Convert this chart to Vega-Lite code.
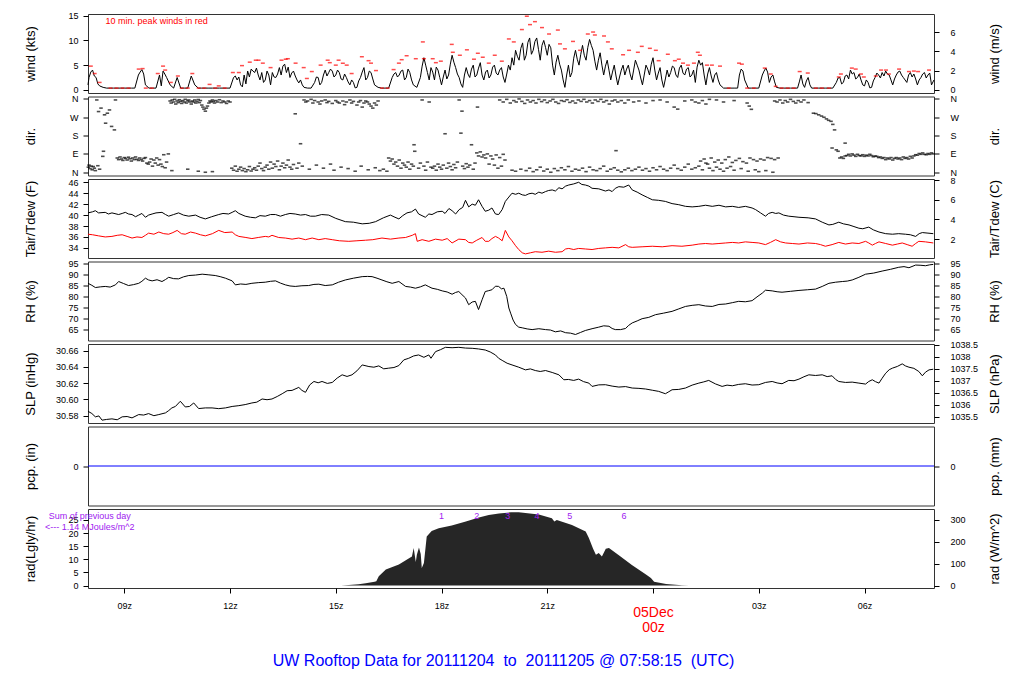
{
"$schema": "https://vega.github.io/schema/vega-lite/v6.json",
"background": "white",
"padding": {"left": 23, "top": 10, "right": 5, "bottom": 5},
"spacing": 3.5,
"bounds": "flush",
"title": {"text": "UW Rooftop Data for 20111204 \u00a0to \u00a020111205 @ 07:58:15 \u00a0(UTC)", "orient": "bottom", "anchor": "middle", "color": "#0000ff", "fontSize": 16, "font": "Liberation Sans", "fontWeight": "normal", "offset": 18, "dx": -9},
"config": {
 "view": {"stroke": "#333333", "strokeWidth": 1},
 "font": "Liberation Sans",
 "axis": {"labelFont": "Liberation Sans", "titleFont": "Liberation Sans", "labelFontSize": 9, "titleFontSize": 13, "titleFontWeight": "normal", "tickSize": 5, "tickColor": "black", "labelColor": "black", "titleColor": "black", "domain": false, "grid": false, "labelOverlap": false}
},
"datasets": {
 "wind": [
 {"h":7.97,"w":1.0},{"h":8.0,"w":2.5},{"h":8.05,"w":3.6},{"h":8.1,"w":4.0},{"h":8.15,"w":2.8},{"h":8.2,"w":2.5},{"h":8.25,"w":1.2},{"h":8.3,"w":0.8},{"h":8.4,"w":0.5},{"h":8.5,"w":0.35},{"h":8.6,"w":0.35},{"h":8.7,"w":0.35},{"h":8.8,"w":0.35},{"h":8.9,"w":0.35},{"h":9.0,"w":0.35},{"h":9.1,"w":0.35},{"h":9.2,"w":0.35},{"h":9.3,"w":0.35},{"h":9.4,"w":3.0},{"h":9.45,"w":3.6},{"h":9.5,"w":4.1},{"h":9.55,"w":3.2},{"h":9.6,"w":1.0},{"h":9.7,"w":0.35},{"h":9.8,"w":0.35},{"h":9.9,"w":0.35},
 {"h":10.0,"w":3.0},{"h":10.05,"w":0.8},{"h":10.1,"w":3.8},{"h":10.15,"w":3.2},{"h":10.2,"w":2.5},{"h":10.3,"w":1.0},{"h":10.4,"w":0.35},{"h":10.5,"w":2.5},{"h":10.6,"w":0.35},{"h":10.7,"w":0.35},{"h":10.8,"w":0.35},{"h":10.9,"w":2.8},{"h":11.0,"w":1.0},{"h":11.1,"w":0.35},{"h":11.2,"w":0.35},{"h":11.3,"w":0.35},{"h":11.4,"w":0.35},{"h":11.5,"w":0.35},{"h":11.6,"w":0.35},{"h":11.7,"w":0.35},{"h":11.8,"w":0.35},{"h":11.9,"w":0.35},
 {"h":12.0,"w":0.35},{"h":12.1,"w":2.5},{"h":12.15,"w":2.8},{"h":12.2,"w":2.0},{"h":12.25,"w":2.6},{"h":12.3,"w":1.0},{"h":12.35,"w":0.6},{"h":12.4,"w":3.0},{"h":12.45,"w":1.2},{"h":12.5,"w":3.8},{"h":12.55,"w":2.6},{"h":12.6,"w":4.2},{"h":12.65,"w":3.8},{"h":12.7,"w":3.5},{"h":12.75,"w":4.4},{"h":12.8,"w":3.0},{"h":12.85,"w":2.0},{"h":12.9,"w":3.5},{"h":12.95,"w":1.5},{"h":13.0,"w":2.0},{"h":13.05,"w":3.8},{"h":13.1,"w":3.0},{"h":13.15,"w":1.0},{"h":13.2,"w":3.5},{"h":13.25,"w":2.6},{"h":13.3,"w":2.5},{"h":13.35,"w":3.2},{"h":13.4,"w":4.5},{"h":13.45,"w":3.0},{"h":13.5,"w":4.8},{"h":13.55,"w":5.2},{"h":13.6,"w":3.5},{"h":13.65,"w":4.6},{"h":13.7,"w":2.5},{"h":13.75,"w":3.4},{"h":13.8,"w":3.8},{"h":13.85,"w":2.8},{"h":13.9,"w":2.0},{"h":13.95,"w":1.4},
 {"h":14.0,"w":2.0},{"h":14.05,"w":1.0},{"h":14.1,"w":0.5},{"h":14.2,"w":0.35},{"h":14.3,"w":0.35},{"h":14.4,"w":1.5},{"h":14.45,"w":2.6},{"h":14.5,"w":2.5},{"h":14.55,"w":1.0},{"h":14.6,"w":1.5},{"h":14.65,"w":3.0},{"h":14.7,"w":4.0},{"h":14.75,"w":2.8},{"h":14.8,"w":3.5},{"h":14.85,"w":4.2},{"h":14.9,"w":3.8},{"h":14.95,"w":2.6},{"h":15.0,"w":3.0},{"h":15.05,"w":4.0},{"h":15.1,"w":3.5},{"h":15.15,"w":2.2},{"h":15.2,"w":2.0},{"h":15.25,"w":3.2},{"h":15.3,"w":2.5},{"h":15.35,"w":1.6},{"h":15.4,"w":1.0},{"h":15.45,"w":2.0},{"h":15.5,"w":1.5},{"h":15.55,"w":0.4},{"h":15.6,"w":0.5},{"h":15.65,"w":1.8},{"h":15.7,"w":2.5},{"h":15.75,"w":3.6},{"h":15.8,"w":4.5},{"h":15.85,"w":2.0},{"h":15.9,"w":2.5},{"h":15.95,"w":3.8},
 {"h":16.0,"w":3.5},{"h":16.05,"w":2.2},{"h":16.1,"w":1.0},{"h":16.2,"w":0.5},{"h":16.3,"w":0.35},{"h":16.4,"w":0.35},{"h":16.5,"w":0.35},{"h":16.6,"w":2.5},{"h":16.65,"w":3.2},{"h":16.7,"w":3.5},{"h":16.75,"w":2.6},{"h":16.8,"w":3.0},{"h":16.85,"w":3.8},{"h":16.9,"w":4.0},{"h":16.95,"w":2.0},{"h":17.0,"w":2.5},{"h":17.05,"w":4.2},{"h":17.1,"w":3.5},{"h":17.15,"w":2.0},{"h":17.2,"w":1.0},{"h":17.3,"w":0.5},{"h":17.4,"w":2.5},{"h":17.45,"w":4.8},{"h":17.5,"w":6.5},{"h":17.55,"w":5.0},{"h":17.6,"w":3.5},{"h":17.65,"w":2.0},{"h":17.7,"w":4.5},{"h":17.75,"w":3.6},{"h":17.8,"w":2.0},{"h":17.85,"w":4.6},{"h":17.9,"w":4.0},{"h":17.95,"w":2.5},
 {"h":18.0,"w":1.0},{"h":18.05,"w":2.6},{"h":18.1,"w":4.0},{"h":18.15,"w":2.2},{"h":18.2,"w":3.0},{"h":18.25,"w":5.2},{"h":18.3,"w":7.0},{"h":18.35,"w":5.6},{"h":18.4,"w":4.5},{"h":18.45,"w":3.2},{"h":18.5,"w":2.5},{"h":18.55,"w":1.2},{"h":18.6,"w":0.5},{"h":18.65,"w":3.0},{"h":18.7,"w":4.5},{"h":18.75,"w":3.2},{"h":18.8,"w":2.5},{"h":18.85,"w":4.2},{"h":18.9,"w":5.0},{"h":18.95,"w":2.6},{"h":19.0,"w":3.0},{"h":19.05,"w":4.4},{"h":19.1,"w":5.5},{"h":19.15,"w":3.0},{"h":19.2,"w":2.0},{"h":19.25,"w":3.6},{"h":19.3,"w":4.0},{"h":19.35,"w":2.4},{"h":19.4,"w":3.0},{"h":19.45,"w":4.6},{"h":19.5,"w":5.0},{"h":19.55,"w":3.4},{"h":19.6,"w":3.0},{"h":19.65,"w":4.0},{"h":19.7,"w":4.5},{"h":19.75,"w":2.6},{"h":19.8,"w":1.5},{"h":19.85,"w":3.2},{"h":19.9,"w":5.0},{"h":19.95,"w":4.0},
 {"h":20.0,"w":6.5},{"h":20.05,"w":5.0},{"h":20.1,"w":8.0},{"h":20.15,"w":6.8},{"h":20.2,"w":6.0},{"h":20.25,"w":8.4},{"h":20.3,"w":9.5},{"h":20.35,"w":6.0},{"h":20.4,"w":7.0},{"h":20.45,"w":9.6},{"h":20.5,"w":10.5},{"h":20.55,"w":7.2},{"h":20.6,"w":8.0},{"h":20.65,"w":9.8},{"h":20.7,"w":10.5},{"h":20.75,"w":8.2},{"h":20.8,"w":6.0},{"h":20.85,"w":9.0},{"h":20.9,"w":10.0},{"h":20.95,"w":8.6},{"h":21.0,"w":7.0},{"h":21.05,"w":9.2},{"h":21.1,"w":8.5},{"h":21.15,"w":5.0},{"h":21.2,"w":3.0},{"h":21.25,"w":5.6},{"h":21.3,"w":7.0},{"h":21.35,"w":5.2},{"h":21.4,"w":4.0},{"h":21.45,"w":2.0},{"h":21.5,"w":0.5},{"h":21.55,"w":3.0},{"h":21.6,"w":5.0},{"h":21.65,"w":2.6},{"h":21.7,"w":3.5},{"h":21.75,"w":6.4},{"h":21.8,"w":8.0},{"h":21.85,"w":6.2},{"h":21.9,"w":5.0},{"h":21.95,"w":7.2},
 {"h":22.0,"w":9.0},{"h":22.05,"w":7.0},{"h":22.1,"w":6.0},{"h":22.15,"w":8.6},{"h":22.2,"w":10.2},{"h":22.25,"w":9.0},{"h":22.3,"w":8.0},{"h":22.35,"w":5.8},{"h":22.4,"w":4.0},{"h":22.45,"w":6.0},{"h":22.5,"w":7.5},{"h":22.55,"w":5.0},{"h":22.6,"w":3.0},{"h":22.65,"w":4.8},{"h":22.7,"w":6.0},{"h":22.75,"w":4.0},{"h":22.8,"w":2.0},{"h":22.85,"w":3.6},{"h":22.9,"w":5.0},{"h":22.95,"w":2.8},{"h":23.0,"w":1.0},{"h":23.05,"w":2.6},{"h":23.1,"w":4.0},{"h":23.15,"w":5.0},{"h":23.2,"w":3.0},{"h":23.25,"w":4.2},{"h":23.3,"w":5.0},{"h":23.35,"w":3.2},{"h":23.4,"w":2.0},{"h":23.45,"w":4.0},{"h":23.5,"w":6.0},{"h":23.55,"w":5.0},{"h":23.6,"w":4.0},{"h":23.65,"w":2.4},{"h":23.7,"w":1.0},{"h":23.75,"w":3.0},{"h":23.8,"w":5.0},{"h":23.85,"w":4.2},{"h":23.9,"w":3.0},{"h":23.95,"w":5.2},
 {"h":24.0,"w":6.5},{"h":24.05,"w":4.0},{"h":24.1,"w":2.0},{"h":24.15,"w":3.4},{"h":24.2,"w":4.5},{"h":24.25,"w":2.0},{"h":24.3,"w":0.5},{"h":24.35,"w":2.2},{"h":24.4,"w":4.0},{"h":24.45,"w":2.6},{"h":24.5,"w":3.5},{"h":24.55,"w":4.8},{"h":24.6,"w":4.5},{"h":24.65,"w":3.0},{"h":24.7,"w":2.5},{"h":24.75,"w":4.4},{"h":24.8,"w":5.0},{"h":24.85,"w":3.4},{"h":24.9,"w":3.0},{"h":24.95,"w":4.2},{"h":25.0,"w":4.5},{"h":25.05,"w":2.6},{"h":25.1,"w":3.0},{"h":25.15,"w":4.0},{"h":25.2,"w":1.5},{"h":25.25,"w":4.6},{"h":25.3,"w":6.0},{"h":25.35,"w":5.0},{"h":25.4,"w":5.5},{"h":25.45,"w":3.0},{"h":25.5,"w":1.0},{"h":25.55,"w":3.2},{"h":25.6,"w":4.5},{"h":25.65,"w":2.8},{"h":25.7,"w":1.5},{"h":25.75,"w":3.0},{"h":25.8,"w":3.5},{"h":25.85,"w":2.0},{"h":25.9,"w":1.0},
 {"h":26.0,"w":0.35},{"h":26.1,"w":0.35},{"h":26.2,"w":0.35},{"h":26.3,"w":0.35},{"h":26.4,"w":0.35},{"h":26.45,"w":3.0},{"h":26.5,"w":4.2},{"h":26.55,"w":3.8},{"h":26.6,"w":2.0},{"h":26.7,"w":0.35},{"h":26.8,"w":0.35},{"h":26.9,"w":0.35},{"h":27.0,"w":0.35},{"h":27.1,"w":3.0},{"h":27.15,"w":3.8},{"h":27.2,"w":4.4},{"h":27.25,"w":3.6},{"h":27.3,"w":1.5},{"h":27.35,"w":2.6},{"h":27.4,"w":3.0},{"h":27.45,"w":1.6},{"h":27.5,"w":0.5},{"h":27.6,"w":0.35},{"h":27.7,"w":0.35},{"h":27.8,"w":0.35},{"h":27.9,"w":0.35},
 {"h":28.0,"w":0.35},{"h":28.1,"w":0.35},{"h":28.15,"w":1.6},{"h":28.2,"w":3.0},{"h":28.25,"w":1.2},{"h":28.3,"w":0.5},{"h":28.35,"w":1.8},{"h":28.4,"w":2.5},{"h":28.45,"w":1.0},{"h":28.5,"w":0.35},{"h":28.6,"w":0.35},{"h":28.7,"w":0.35},{"h":28.8,"w":0.35},{"h":28.9,"w":0.35},{"h":29.0,"w":0.35},{"h":29.1,"w":0.35},{"h":29.2,"w":1.5},{"h":29.25,"w":2.4},{"h":29.3,"w":2.5},{"h":29.35,"w":1.2},{"h":29.4,"w":1.5},{"h":29.45,"w":2.8},{"h":29.5,"w":3.0},{"h":29.55,"w":2.2},{"h":29.6,"w":4.0},{"h":29.65,"w":3.2},{"h":29.7,"w":3.5},{"h":29.75,"w":2.2},{"h":29.8,"w":2.5},{"h":29.85,"w":3.2},{"h":29.9,"w":2.0},{"h":29.95,"w":1.0},
 {"h":30.0,"w":0.8},{"h":30.05,"w":2.0},{"h":30.1,"w":1.5},{"h":30.15,"w":0.4},{"h":30.2,"w":0.5},{"h":30.25,"w":1.8},{"h":30.3,"w":2.5},{"h":30.35,"w":3.4},{"h":30.4,"w":3.0},{"h":30.45,"w":2.4},{"h":30.5,"w":3.5},{"h":30.55,"w":2.8},{"h":30.6,"w":3.8},{"h":30.65,"w":3.2},{"h":30.7,"w":3.0},{"h":30.75,"w":2.0},{"h":30.8,"w":1.0},{"h":30.85,"w":2.2},{"h":30.9,"w":3.0},{"h":30.95,"w":3.6},{"h":31.0,"w":3.8},{"h":31.05,"w":3.0},{"h":31.1,"w":2.5},{"h":31.15,"w":2.0},{"h":31.2,"w":1.5},{"h":31.25,"w":3.0},{"h":31.3,"w":3.5},{"h":31.35,"w":2.6},{"h":31.4,"w":3.2},{"h":31.45,"w":2.2},{"h":31.5,"w":1.0},{"h":31.55,"w":2.0},{"h":31.6,"w":2.5},{"h":31.65,"w":3.2},{"h":31.7,"w":3.5},{"h":31.75,"w":2.4},{"h":31.8,"w":3.0},{"h":31.85,"w":3.4},{"h":31.9,"w":1.0},{"h":31.97,"w":2.0}
 ],
 "peak": [
 {"h":8.05,"p":4.8},{"h":8.16,"p":3.3},{"h":8.30,"p":1.5},{"h":8.61,"p":0.35},{"h":8.78,"p":0.35},{"h":8.95,"p":0.35},{"h":9.12,"p":0.35},{"h":9.41,"p":4.2},{"h":9.52,"p":4.3},{"h":9.61,"p":0.35},{"h":9.78,"p":0.35},{"h":9.95,"p":3.3},{"h":10.10,"p":4.8},{"h":10.16,"p":4.0},{"h":10.32,"p":1.5},{"h":10.52,"p":2.8},{"h":10.63,"p":0.35},{"h":10.80,"p":0.35},{"h":10.93,"p":3.3},{"h":11.11,"p":0.35},{"h":11.27,"p":0.35},{"h":11.42,"p":1.1},{"h":11.58,"p":0.35},{"h":11.68,"p":0.8},{"h":11.85,"p":0.35},
 {"h":12.08,"p":3.5},{"h":12.25,"p":3.5},{"h":12.34,"p":4.9},{"h":12.56,"p":5.6},{"h":12.73,"p":6.0},{"h":12.81,"p":6.0},{"h":12.93,"p":5.4},{"h":13.15,"p":4.5},{"h":13.46,"p":6.0},{"h":13.58,"p":6.2},{"h":13.64,"p":6.3},{"h":13.86,"p":5.4},{"h":14.09,"p":4.5},{"h":14.18,"p":2.3},{"h":14.32,"p":3.7},{"h":14.57,"p":5.0},{"h":14.77,"p":6.0},{"h":14.83,"p":5.5},{"h":15.0,"p":5.0},{"h":15.08,"p":6.0},{"h":15.20,"p":5.4},{"h":15.31,"p":5.0},{"h":15.45,"p":3.3},{"h":15.74,"p":6.7},{"h":15.93,"p":5.9},{"h":16.0,"p":5.4},{"h":16.14,"p":3.9},{"h":16.31,"p":0.35},{"h":16.47,"p":0.35},{"h":16.64,"p":4.1},{"h":16.79,"p":5.4},{"h":16.87,"p":6.1},{"h":17.01,"p":6.9},{"h":17.27,"p":6.3},{"h":17.47,"p":9.7},{"h":17.5,"p":6.3},{"h":17.75,"p":6.3},{"h":17.84,"p":5.5},{"h":17.98,"p":5.8},
 {"h":18.29,"p":9.2},{"h":18.32,"p":7.6},{"h":18.52,"p":7.0},{"h":18.72,"p":8.1},{"h":18.92,"p":6.2},{"h":19.03,"p":7.4},{"h":19.17,"p":6.6},{"h":19.34,"p":5.4},{"h":19.51,"p":7.0},{"h":19.71,"p":5.8},{"h":19.91,"p":10.3},{"h":20.05,"p":9.7},{"h":20.28,"p":12.2},{"h":20.42,"p":14.9},{"h":20.51,"p":13.2},{"h":20.65,"p":13.8},{"h":20.85,"p":12.6},{"h":21.05,"p":11.3},{"h":21.3,"p":12.1},{"h":21.36,"p":9.3},{"h":21.5,"p":8.3},{"h":21.73,"p":9.8},{"h":21.93,"p":8.0},{"h":22.15,"p":11.3},{"h":22.3,"p":11.7},{"h":22.35,"p":11.1},{"h":22.61,"p":10.9},{"h":22.72,"p":9.7},{"h":22.83,"p":8.3},{"h":23.15,"p":7.1},{"h":23.32,"p":8.0},{"h":23.57,"p":7.6},{"h":23.68,"p":8.8},{"h":23.91,"p":8.4},
 {"h":24.08,"p":8.0},{"h":24.16,"p":5.9},{"h":24.42,"p":7.2},{"h":24.62,"p":5.9},{"h":24.73,"p":6.2},{"h":24.85,"p":5.4},{"h":24.99,"p":5.0},{"h":25.16,"p":5.4},{"h":25.27,"p":7.6},{"h":25.33,"p":7.0},{"h":25.53,"p":5.0},{"h":25.67,"p":5.0},{"h":25.9,"p":4.8},{"h":26.15,"p":0.35},{"h":26.44,"p":5.4},{"h":26.52,"p":5.2},{"h":26.67,"p":0.35},{"h":26.86,"p":0.35},{"h":27.17,"p":4.4},{"h":27.34,"p":3.2},{"h":27.48,"p":0.7},{"h":27.65,"p":0.35},{"h":27.82,"p":0.35},{"h":27.99,"p":0.35},{"h":28.16,"p":3.7},{"h":28.39,"p":3.4},{"h":28.62,"p":0.35},{"h":28.79,"p":0.35},{"h":28.99,"p":0.35},{"h":29.27,"p":2.6},{"h":29.33,"p":3.2},{"h":29.64,"p":4.4},{"h":29.75,"p":4.2},{"h":29.9,"p":3.2},{"h":29.98,"p":2.6},{"h":30.32,"p":2.8},{"h":30.47,"p":4.0},{"h":30.61,"p":4.0},{"h":30.69,"p":3.2},{"h":30.98,"p":4.2},{"h":31.26,"p":3.7},{"h":31.4,"p":3.8},{"h":31.52,"p":3.7},{"h":31.83,"p":4.0}
 ],
 "dir": [
 {"h":7.98,"d":25},{"h":8.0,"d":35},{"h":8.03,"d":18},{"h":8.06,"d":30},{"h":8.09,"d":12},{"h":8.12,"d":28},{"h":8.15,"d":20},{"h":8.18,"d":8},{"h":8.22,"d":355},{"h":8.25,"d":32},{"h":8.27,"d":298},{"h":8.3,"d":15},{"h":8.34,"d":315},{"h":8.39,"d":78},{"h":8.41,"d":103},{"h":8.44,"d":282},{"h":8.47,"d":241},{"h":8.52,"d":290},{"h":8.58,"d":306},{"h":8.64,"d":225},{"h":8.72,"d":208},{"h":8.75,"d":355},
 {"h":8.8,"d":70},{"h":8.84,"d":62},{"h":8.88,"d":75},{"h":8.92,"d":65},{"h":8.96,"d":58},{"h":9.0,"d":72},{"h":9.04,"d":68},{"h":9.08,"d":60},{"h":9.12,"d":74},{"h":9.16,"d":66},{"h":9.2,"d":55},{"h":9.24,"d":70},{"h":9.28,"d":62},{"h":9.32,"d":75},{"h":9.36,"d":64},{"h":9.4,"d":58},{"h":9.44,"d":70},{"h":9.48,"d":62},{"h":9.52,"d":55},{"h":9.56,"d":68},{"h":9.6,"d":72},{"h":9.64,"d":45},{"h":9.68,"d":40},{"h":9.72,"d":50},{"h":9.76,"d":65},{"h":9.8,"d":30},{"h":9.84,"d":60},{"h":9.88,"d":45},{"h":9.92,"d":70},{"h":9.96,"d":35},{"h":10.0,"d":62},{"h":10.04,"d":40},{"h":10.08,"d":28},{"h":10.12,"d":86},{"h":10.16,"d":22},{"h":10.2,"d":50},{"h":10.25,"d":90},
 {"h":10.3,"d":350},{"h":10.33,"d":340},{"h":10.36,"d":355},{"h":10.4,"d":345},{"h":10.43,"d":358},{"h":10.46,"d":335},{"h":10.5,"d":350},{"h":10.53,"d":342},{"h":10.56,"d":356},{"h":10.6,"d":348},{"h":10.63,"d":338},{"h":10.66,"d":352},{"h":10.7,"d":345},{"h":10.73,"d":358},{"h":10.76,"d":340},{"h":10.8,"d":350},{"h":10.83,"d":355},{"h":10.86,"d":345},{"h":10.9,"d":335},{"h":10.93,"d":350},{"h":10.96,"d":345},{"h":11.0,"d":355},{"h":11.03,"d":340},{"h":11.06,"d":348},{"h":11.1,"d":357},{"h":11.13,"d":342},{"h":11.16,"d":352},{"h":11.2,"d":330},{"h":11.23,"d":320},{"h":11.26,"d":310},{"h":11.3,"d":300},{"h":11.33,"d":315},{"h":11.36,"d":325},{"h":11.4,"d":340},{"h":11.43,"d":350},{"h":11.46,"d":345},{"h":11.5,"d":355},{"h":11.53,"d":348},{"h":11.56,"d":340},{"h":11.6,"d":352},{"h":11.65,"d":345},{"h":11.7,"d":356},{"h":11.75,"d":342},{"h":11.8,"d":350},{"h":11.85,"d":345},{"h":11.9,"d":338},{"h":11.95,"d":350},{"h":12.0,"d":345},
 {"h":10.35,"d":8},{"h":10.8,"d":15},{"h":11.1,"d":5},{"h":11.3,"d":0},{"h":11.5,"d":3},
 {"h":12.05,"d":20},{"h":12.1,"d":10},{"h":12.15,"d":30},{"h":12.2,"d":5},{"h":12.25,"d":15},{"h":12.3,"d":25},{"h":12.35,"d":8},{"h":12.4,"d":18},{"h":12.45,"d":3},{"h":12.5,"d":12},{"h":12.55,"d":28},{"h":12.6,"d":6},{"h":12.65,"d":15},{"h":12.7,"d":22},{"h":12.75,"d":10},{"h":12.8,"d":30},{"h":12.85,"d":45},{"h":12.9,"d":18},{"h":12.95,"d":8},{"h":13.0,"d":25},{"h":13.05,"d":35},{"h":13.1,"d":15},{"h":13.15,"d":50},{"h":13.2,"d":20},{"h":13.25,"d":40},{"h":13.3,"d":28},{"h":13.35,"d":55},{"h":13.4,"d":12},{"h":13.45,"d":30},{"h":13.5,"d":45},{"h":13.55,"d":22},{"h":13.6,"d":35},{"h":13.65,"d":60},{"h":13.7,"d":25},{"h":13.75,"d":15},{"h":13.8,"d":38},{"h":13.85,"d":287},{"h":13.9,"d":20},{"h":13.95,"d":45},
 {"h":14.0,"d":140},{"h":14.1,"d":355},{"h":14.15,"d":345},{"h":14.2,"d":350},{"h":14.3,"d":358},{"h":14.35,"d":340},{"h":14.4,"d":352},{"h":14.5,"d":345},{"h":14.55,"d":335},{"h":14.6,"d":350},{"h":14.7,"d":355},{"h":14.75,"d":342},{"h":14.8,"d":348},{"h":14.9,"d":338},{"h":15.0,"d":352},{"h":15.05,"d":345},{"h":15.1,"d":340},{"h":15.2,"d":350},{"h":15.25,"d":332},{"h":15.3,"d":345},{"h":15.4,"d":355},{"h":15.45,"d":340},{"h":15.5,"d":348},{"h":15.6,"d":330},{"h":15.65,"d":345},{"h":15.7,"d":352},{"h":15.75,"d":320},{"h":15.8,"d":340},{"h":15.85,"d":350},{"h":15.9,"d":345},{"h":15.95,"d":335},{"h":16.0,"d":325},{"h":16.05,"d":315},{"h":16.1,"d":340},{"h":16.15,"d":330},{"h":16.2,"d":350},
 {"h":14.05,"d":30},{"h":14.25,"d":15},{"h":14.45,"d":35},{"h":14.65,"d":20},{"h":14.85,"d":40},{"h":14.95,"d":10},{"h":15.15,"d":25},{"h":15.35,"d":18},{"h":15.55,"d":5},{"h":15.72,"d":30},{"h":15.92,"d":12},{"h":16.12,"d":22},{"h":16.25,"d":8},{"h":16.35,"d":15},{"h":16.45,"d":5},
 {"h":16.5,"d":70},{"h":16.55,"d":55},{"h":16.6,"d":65},{"h":16.65,"d":40},{"h":16.7,"d":50},{"h":16.75,"d":30},{"h":16.8,"d":60},{"h":16.85,"d":20},{"h":16.9,"d":45},{"h":16.95,"d":35},{"h":17.0,"d":25},{"h":17.05,"d":50},{"h":17.1,"d":15},{"h":17.15,"d":40},{"h":17.2,"d":30},{"h":17.22,"d":135},{"h":17.24,"d":103},{"h":17.35,"d":20},{"h":17.4,"d":45},{"h":17.45,"d":355},{"h":17.5,"d":30},{"h":17.55,"d":10},{"h":17.6,"d":50},{"h":17.65,"d":345},{"h":17.7,"d":25},
 {"h":17.75,"d":20},{"h":17.8,"d":30},{"h":17.85,"d":10},{"h":17.9,"d":40},{"h":17.95,"d":25},{"h":18.0,"d":15},{"h":18.05,"d":35},{"h":18.1,"d":189},{"h":18.15,"d":20},{"h":18.2,"d":45},{"h":18.25,"d":28},{"h":18.3,"d":12},{"h":18.35,"d":38},{"h":18.4,"d":22},{"h":18.45,"d":50},{"h":18.5,"d":355},{"h":18.55,"d":192},{"h":18.58,"d":300},{"h":18.6,"d":30},{"h":18.65,"d":18},{"h":18.7,"d":42},{"h":18.75,"d":25},{"h":18.8,"d":35},{"h":18.85,"d":135},{"h":18.9,"d":15},{"h":18.95,"d":45},{"h":19.0,"d":95},{"h":19.02,"d":320},{"h":19.05,"d":80},{"h":19.1,"d":100},{"h":19.15,"d":75},{"h":19.2,"d":85},{"h":19.25,"d":70},{"h":19.3,"d":90},{"h":19.35,"d":40},{"h":19.4,"d":80},{"h":19.45,"d":65},{"h":19.5,"d":35},{"h":19.55,"d":85},{"h":19.6,"d":20},{"h":19.65,"d":72},{"h":19.7,"d":30},{"h":19.75,"d":88},{"h":19.8,"d":60},
 {"h":19.65,"d":355},{"h":19.75,"d":345},{"h":19.85,"d":358},{"h":19.95,"d":340},{"h":20.05,"d":352},{"h":20.12,"d":345},{"h":20.2,"d":360},{"h":20.28,"d":348},{"h":20.36,"d":338},{"h":20.44,"d":355},{"h":20.52,"d":345},{"h":20.6,"d":352},{"h":20.68,"d":340},{"h":20.76,"d":358},{"h":20.84,"d":347},{"h":20.92,"d":355},{"h":21.0,"d":342},{"h":21.08,"d":350},{"h":21.16,"d":358},{"h":21.24,"d":345},{"h":21.32,"d":338},{"h":21.4,"d":352},{"h":21.48,"d":348},{"h":21.56,"d":356},{"h":21.64,"d":343},{"h":21.72,"d":350},{"h":21.8,"d":340},{"h":21.88,"d":355},{"h":21.96,"d":348},{"h":22.04,"d":358},{"h":22.12,"d":345},{"h":22.2,"d":352},{"h":22.28,"d":340},{"h":22.36,"d":355},{"h":22.44,"d":348},{"h":22.52,"d":358},{"h":22.6,"d":345},{"h":22.68,"d":352},{"h":22.76,"d":335},{"h":22.84,"d":350},{"h":22.92,"d":355},{"h":23.0,"d":345},{"h":23.1,"d":352},{"h":23.2,"d":340},{"h":23.3,"d":355},{"h":23.45,"d":345},{"h":23.6,"d":350},{"h":23.8,"d":340},{"h":24.0,"d":352},{"h":24.2,"d":355},{"h":24.4,"d":345},{"h":24.6,"d":320},{"h":24.7,"d":310},{"h":24.9,"d":350},{"h":25.1,"d":355},{"h":25.2,"d":345},{"h":25.3,"d":340},{"h":25.4,"d":352},{"h":25.5,"d":335},{"h":25.6,"d":358},
 {"h":20.0,"d":10},{"h":20.1,"d":5},{"h":20.25,"d":15},{"h":20.4,"d":8},{"h":20.5,"d":20},{"h":20.6,"d":3},{"h":20.7,"d":12},{"h":20.8,"d":25},{"h":20.9,"d":6},{"h":21.0,"d":15},{"h":21.1,"d":0},{"h":21.2,"d":18},{"h":21.3,"d":8},{"h":21.4,"d":22},{"h":21.5,"d":12},{"h":21.6,"d":28},{"h":21.7,"d":5},{"h":21.8,"d":15},{"h":21.9,"d":10},{"h":22.0,"d":20},{"h":22.1,"d":3},{"h":22.2,"d":25},{"h":22.3,"d":12},{"h":22.4,"d":8},{"h":22.5,"d":18},{"h":22.6,"d":30},{"h":22.7,"d":5},{"h":22.8,"d":15},{"h":22.9,"d":22},{"h":22.95,"d":106},{"h":23.0,"d":10},{"h":23.1,"d":2},{"h":23.2,"d":12},{"h":23.3,"d":20},{"h":23.4,"d":8},{"h":23.5,"d":15},{"h":23.6,"d":25},{"h":23.7,"d":10},{"h":23.8,"d":18},{"h":23.9,"d":5},{"h":24.0,"d":22},{"h":24.1,"d":12},{"h":24.2,"d":28},{"h":24.3,"d":15},{"h":24.4,"d":8},{"h":24.5,"d":20},{"h":24.6,"d":35},{"h":24.7,"d":18},{"h":24.8,"d":10},{"h":24.9,"d":25},{"h":25.0,"d":40},{"h":25.1,"d":15},{"h":25.2,"d":22},{"h":25.3,"d":30},{"h":25.4,"d":12},{"h":25.5,"d":45},{"h":25.6,"d":20},{"h":25.7,"d":8},{"h":25.8,"d":25},{"h":25.9,"d":15},{"h":26.0,"d":5},{"h":26.1,"d":20},{"h":26.2,"d":28},{"h":26.3,"d":10},{"h":26.5,"d":18},{"h":26.7,"d":5},{"h":26.9,"d":12},{"h":27.0,"d":3},{"h":27.2,"d":8},{"h":27.4,"d":0},
 {"h":25.35,"d":55},{"h":25.45,"d":65},{"h":25.55,"d":40},{"h":25.65,"d":70},{"h":25.75,"d":50},{"h":25.85,"d":60},{"h":25.95,"d":45},{"h":26.05,"d":62},{"h":26.15,"d":75},{"h":26.25,"d":48},{"h":26.35,"d":58},{"h":26.45,"d":68},{"h":26.55,"d":52},{"h":26.65,"d":45},{"h":26.75,"d":70},{"h":26.85,"d":62},{"h":26.95,"d":55},{"h":27.05,"d":65},{"h":27.15,"d":60},{"h":27.25,"d":72},{"h":27.35,"d":68},{"h":27.45,"d":62},{"h":27.55,"d":70},
 {"h":25.8,"d":355},{"h":26.0,"d":345},{"h":26.3,"d":352},{"h":26.67,"d":340},{"h":26.73,"d":325},{"h":26.79,"d":309},
 {"h":27.45,"d":350},{"h":27.52,"d":345},{"h":27.6,"d":355},{"h":27.68,"d":340},{"h":27.75,"d":352},{"h":27.82,"d":345},{"h":27.9,"d":358},{"h":27.98,"d":348},{"h":28.05,"d":340},{"h":28.12,"d":352},{"h":28.2,"d":345},{"h":28.28,"d":355},{"h":28.4,"d":342},
 {"h":28.55,"d":290},{"h":28.62,"d":288},{"h":28.7,"d":282},{"h":28.78,"d":276},{"h":28.85,"d":270},{"h":28.92,"d":262},{"h":28.98,"d":255},{"h":29.05,"d":250},{"h":29.1,"d":235},{"h":29.15,"d":208},{"h":29.08,"d":119},{"h":29.2,"d":110},{"h":29.25,"d":103},{"h":29.45,"d":143},
 {"h":29.3,"d":70},{"h":29.35,"d":75},{"h":29.4,"d":68},{"h":29.45,"d":80},{"h":29.5,"d":82},{"h":29.55,"d":88},{"h":29.6,"d":80},{"h":29.65,"d":90},{"h":29.7,"d":84},{"h":29.75,"d":78},{"h":29.8,"d":88},{"h":29.85,"d":82},{"h":29.9,"d":80},{"h":29.95,"d":86},{"h":30.0,"d":78},{"h":30.05,"d":84},{"h":30.1,"d":80},{"h":30.15,"d":88},{"h":30.2,"d":82},{"h":30.25,"d":76},{"h":30.3,"d":80},{"h":30.35,"d":78},{"h":30.4,"d":72},{"h":30.45,"d":75},{"h":30.5,"d":68},{"h":30.55,"d":72},{"h":30.6,"d":62},{"h":30.65,"d":70},{"h":30.7,"d":65},{"h":30.75,"d":72},{"h":30.8,"d":60},{"h":30.85,"d":68},{"h":30.9,"d":72},{"h":30.95,"d":65},{"h":31.0,"d":70},{"h":31.05,"d":62},{"h":31.1,"d":75},{"h":31.15,"d":68},{"h":31.2,"d":72},{"h":31.25,"d":65},{"h":31.3,"d":78},{"h":31.35,"d":70},{"h":31.4,"d":80},{"h":31.45,"d":86},{"h":31.5,"d":84},{"h":31.55,"d":92},{"h":31.6,"d":88},{"h":31.65,"d":95},{"h":31.7,"d":88},{"h":31.75,"d":86},{"h":31.8,"d":92},{"h":31.85,"d":88},{"h":31.9,"d":95},{"h":31.95,"d":90}
 ],
 "ta": [
 {"h":7.97,"v":40.4},{"h":8.1,"v":40.6},{"h":8.18,"v":40.8},{"h":8.27,"v":40.4},{"h":8.46,"v":40.5},{"h":8.55,"v":40.2},{"h":8.65,"v":40.4},{"h":8.84,"v":40.1},{"h":8.94,"v":40.3},{"h":9.03,"v":40.5},{"h":9.12,"v":40.2},{"h":9.22,"v":40.1},{"h":9.32,"v":39.7},{"h":9.41,"v":40.0},{"h":9.5,"v":40.3},{"h":9.6,"v":39.6},{"h":9.69,"v":40.0},{"h":9.79,"v":40.2},{"h":9.9,"v":40.4},{"h":10.07,"v":40.5},{"h":10.17,"v":40.1},{"h":10.26,"v":39.8},{"h":10.4,"v":40.1},{"h":10.54,"v":40.4},{"h":10.68,"v":40.0},{"h":10.83,"v":39.8},{"h":11.02,"v":40.0},{"h":11.15,"v":39.6},{"h":11.3,"v":39.3},{"h":11.48,"v":39.7},{"h":11.68,"v":40.1},{"h":11.8,"v":40.3},{"h":11.96,"v":40.2},{"h":12.06,"v":40.5},{"h":12.15,"v":40.8},{"h":12.25,"v":40.3},{"h":12.43,"v":39.8},{"h":12.58,"v":39.6},{"h":12.72,"v":39.5},{"h":12.85,"v":39.9},{"h":13.0,"v":39.8},{"h":13.15,"v":40.1},{"h":13.29,"v":40.1},{"h":13.43,"v":39.8},{"h":13.57,"v":40.1},{"h":13.7,"v":40.3},{"h":13.85,"v":40.2},{"h":14.0,"v":40.0},{"h":14.14,"v":40.1},{"h":14.28,"v":39.8},{"h":14.42,"v":39.8},{"h":14.6,"v":40.1},{"h":14.8,"v":40.0},{"h":15.0,"v":39.4},{"h":15.27,"v":38.8},{"h":15.5,"v":38.7},{"h":15.75,"v":38.4},{"h":15.95,"v":38.5},{"h":16.13,"v":38.8},{"h":16.35,"v":39.5},{"h":16.55,"v":40.0},{"h":16.68,"v":39.6},{"h":16.79,"v":39.3},{"h":16.9,"v":39.9},{"h":17.02,"v":40.4},{"h":17.15,"v":40.6},{"h":17.26,"v":41.1},{"h":17.35,"v":40.2},{"h":17.54,"v":39.6},{"h":17.64,"v":40.2},{"h":17.73,"v":40.1},{"h":17.88,"v":40.6},{"h":18.02,"v":40.7},{"h":18.1,"v":40.3},{"h":18.21,"v":41.2},{"h":18.3,"v":40.8},{"h":18.4,"v":40.2},{"h":18.5,"v":41.0},{"h":18.6,"v":41.4},{"h":18.68,"v":42.7},{"h":18.77,"v":41.5},{"h":18.87,"v":42.0},{"h":18.96,"v":41.8},{"h":19.05,"v":42.8},{"h":19.15,"v":41.6},{"h":19.24,"v":40.7},{"h":19.34,"v":40.9},{"h":19.43,"v":41.3},{"h":19.53,"v":40.2},{"h":19.62,"v":40.1},{"h":19.72,"v":41.0},{"h":19.81,"v":42.5},{"h":19.91,"v":43.3},{"h":20.0,"v":44.0},{"h":20.1,"v":43.8},{"h":20.19,"v":44.0},{"h":20.29,"v":43.7},{"h":20.38,"v":43.6},{"h":20.48,"v":43.9},{"h":20.57,"v":44.0},{"h":20.66,"v":43.8},{"h":20.76,"v":44.2},{"h":20.85,"v":44.0},{"h":20.95,"v":44.3},{"h":21.04,"v":44.5},{"h":21.14,"v":44.6},{"h":21.23,"v":44.4},{"h":21.33,"v":45.0},{"h":21.42,"v":44.8},{"h":21.52,"v":45.3},{"h":21.61,"v":45.5},{"h":21.75,"v":45.7},{"h":21.89,"v":46.0},{"h":21.98,"v":45.6},{"h":22.08,"v":45.5},{"h":22.18,"v":45.3},{"h":22.27,"v":44.9},{"h":22.46,"v":44.8},{"h":22.65,"v":44.4},{"h":22.75,"v":44.6},{"h":22.84,"v":44.3},{"h":22.93,"v":44.9},{"h":23.03,"v":45.2},{"h":23.17,"v":45.1},{"h":23.31,"v":45.5},{"h":23.41,"v":44.6},{"h":23.55,"v":44.2},{"h":23.69,"v":43.7},{"h":23.85,"v":43.2},{"h":23.98,"v":42.8},{"h":24.16,"v":42.7},{"h":24.35,"v":42.5},{"h":24.54,"v":42.1},{"h":24.73,"v":41.9},{"h":24.92,"v":41.6},{"h":25.11,"v":41.5},{"h":25.3,"v":41.6},{"h":25.49,"v":41.8},{"h":25.68,"v":41.6},{"h":25.87,"v":41.8},{"h":26.06,"v":41.5},{"h":26.25,"v":41.6},{"h":26.43,"v":41.4},{"h":26.62,"v":41.6},{"h":26.81,"v":41.3},{"h":26.91,"v":41.0},{"h":27.05,"v":40.4},{"h":27.19,"v":39.8},{"h":27.28,"v":40.3},{"h":27.38,"v":40.5},{"h":27.48,"v":40.3},{"h":27.57,"v":40.4},{"h":27.7,"v":40.0},{"h":27.85,"v":39.8},{"h":28.0,"v":39.7},{"h":28.14,"v":39.6},{"h":28.4,"v":39.5},{"h":28.61,"v":39.3},{"h":28.8,"v":38.7},{"h":28.99,"v":38.2},{"h":29.1,"v":38.3},{"h":29.27,"v":38.7},{"h":29.4,"v":38.4},{"h":29.56,"v":38.2},{"h":29.7,"v":37.9},{"h":29.84,"v":37.6},{"h":29.95,"v":37.5},{"h":30.12,"v":37.8},{"h":30.25,"v":37.3},{"h":30.41,"v":36.9},{"h":30.6,"v":36.6},{"h":30.79,"v":36.5},{"h":30.97,"v":36.6},{"h":31.16,"v":36.5},{"h":31.3,"v":36.4},{"h":31.45,"v":36.1},{"h":31.55,"v":36.6},{"h":31.64,"v":36.8},{"h":31.8,"v":36.7},{"h":31.95,"v":36.6}
 ],
 "td": [
 {"h":7.97,"v":36.5},{"h":8.1,"v":36.4},{"h":8.27,"v":36.2},{"h":8.46,"v":36.0},{"h":8.65,"v":36.1},{"h":8.8,"v":36.3},{"h":8.94,"v":36.4},{"h":9.08,"v":36.1},{"h":9.22,"v":35.8},{"h":9.36,"v":36.0},{"h":9.5,"v":35.9},{"h":9.6,"v":36.3},{"h":9.69,"v":36.7},{"h":9.84,"v":36.5},{"h":9.98,"v":36.9},{"h":10.12,"v":36.6},{"h":10.26,"v":36.5},{"h":10.38,"v":36.8},{"h":10.5,"v":37.2},{"h":10.62,"v":36.6},{"h":10.73,"v":36.5},{"h":10.88,"v":36.9},{"h":11.02,"v":36.7},{"h":11.16,"v":36.4},{"h":11.3,"v":36.2},{"h":11.5,"v":36.6},{"h":11.68,"v":37.2},{"h":11.85,"v":36.8},{"h":12.06,"v":36.9},{"h":12.15,"v":36.4},{"h":12.25,"v":36.1},{"h":12.45,"v":35.9},{"h":12.62,"v":35.7},{"h":12.8,"v":35.9},{"h":13.0,"v":36.1},{"h":13.1,"v":36.0},{"h":13.19,"v":36.3},{"h":13.38,"v":35.9},{"h":13.57,"v":35.8},{"h":13.76,"v":35.6},{"h":13.95,"v":35.8},{"h":14.14,"v":35.5},{"h":14.33,"v":35.8},{"h":14.52,"v":35.5},{"h":14.7,"v":35.7},{"h":14.9,"v":35.5},{"h":15.1,"v":35.3},{"h":15.37,"v":35.2},{"h":15.6,"v":35.3},{"h":15.84,"v":35.4},{"h":16.05,"v":35.5},{"h":16.31,"v":35.8},{"h":16.55,"v":35.6},{"h":16.79,"v":35.8},{"h":16.98,"v":35.9},{"h":17.17,"v":36.3},{"h":17.26,"v":36.6},{"h":17.31,"v":35.2},{"h":17.45,"v":35.5},{"h":17.64,"v":35.2},{"h":17.83,"v":35.6},{"h":18.02,"v":35.4},{"h":18.16,"v":35.7},{"h":18.3,"v":34.9},{"h":18.49,"v":35.6},{"h":18.68,"v":35.5},{"h":18.77,"v":35.0},{"h":18.87,"v":34.9},{"h":19.0,"v":35.4},{"h":19.15,"v":35.9},{"h":19.24,"v":35.2},{"h":19.34,"v":35.2},{"h":19.43,"v":35.7},{"h":19.53,"v":36.1},{"h":19.62,"v":35.8},{"h":19.72,"v":35.3},{"h":19.81,"v":37.2},{"h":19.91,"v":36.0},{"h":20.0,"v":35.3},{"h":20.1,"v":34.4},{"h":20.19,"v":33.7},{"h":20.29,"v":33.1},{"h":20.38,"v":32.9},{"h":20.52,"v":33.1},{"h":20.66,"v":33.3},{"h":20.85,"v":33.2},{"h":21.04,"v":33.4},{"h":21.23,"v":33.2},{"h":21.42,"v":33.3},{"h":21.52,"v":33.8},{"h":21.61,"v":33.9},{"h":21.75,"v":33.7},{"h":21.89,"v":33.9},{"h":22.08,"v":33.8},{"h":22.27,"v":33.7},{"h":22.46,"v":33.9},{"h":22.65,"v":34.0},{"h":22.84,"v":34.1},{"h":23.03,"v":34.0},{"h":23.22,"v":34.6},{"h":23.31,"v":34.2},{"h":23.41,"v":34.1},{"h":23.69,"v":34.2},{"h":23.98,"v":34.3},{"h":24.26,"v":34.2},{"h":24.54,"v":34.4},{"h":24.82,"v":34.3},{"h":25.11,"v":34.5},{"h":25.3,"v":34.7},{"h":25.49,"v":34.8},{"h":25.68,"v":34.7},{"h":25.87,"v":34.8},{"h":26.06,"v":34.9},{"h":26.25,"v":35.0},{"h":26.43,"v":34.9},{"h":26.62,"v":35.1},{"h":26.81,"v":35.0},{"h":27.0,"v":34.9},{"h":27.19,"v":34.6},{"h":27.33,"v":35.0},{"h":27.48,"v":35.5},{"h":27.62,"v":35.1},{"h":27.76,"v":34.9},{"h":27.95,"v":34.8},{"h":28.14,"v":34.7},{"h":28.38,"v":34.9},{"h":28.61,"v":34.8},{"h":28.75,"v":34.6},{"h":28.89,"v":34.3},{"h":29.08,"v":34.6},{"h":29.27,"v":35.0},{"h":29.46,"v":34.7},{"h":29.65,"v":34.9},{"h":29.84,"v":34.8},{"h":30.03,"v":35.2},{"h":30.12,"v":34.9},{"h":30.22,"v":34.5},{"h":30.31,"v":34.8},{"h":30.41,"v":35.1},{"h":30.6,"v":34.8},{"h":30.79,"v":34.5},{"h":30.93,"v":34.7},{"h":31.07,"v":34.9},{"h":31.21,"v":34.6},{"h":31.35,"v":34.3},{"h":31.45,"v":34.8},{"h":31.54,"v":35.2},{"h":31.73,"v":35.1},{"h":31.95,"v":34.9}
 ],
 "rh": [
 {"h":7.97,"v":85.9},{"h":8.08,"v":85.0},{"h":8.18,"v":84.0},{"h":8.32,"v":84.3},{"h":8.46,"v":84.5},{"h":8.6,"v":84.2},{"h":8.75,"v":85.2},{"h":8.84,"v":86.7},{"h":8.98,"v":85.8},{"h":9.12,"v":84.9},{"h":9.26,"v":85.3},{"h":9.41,"v":85.9},{"h":9.5,"v":86.8},{"h":9.6,"v":88.2},{"h":9.69,"v":87.4},{"h":9.79,"v":87.0},{"h":9.93,"v":87.5},{"h":10.07,"v":86.7},{"h":10.17,"v":87.6},{"h":10.26,"v":88.6},{"h":10.4,"v":88.0},{"h":10.54,"v":87.9},{"h":10.68,"v":88.8},{"h":10.83,"v":89.4},{"h":11.02,"v":89.6},{"h":11.21,"v":90.0},{"h":11.4,"v":89.7},{"h":11.58,"v":89.4},{"h":11.72,"v":88.9},{"h":11.87,"v":88.2},{"h":12.06,"v":87.0},{"h":12.15,"v":85.2},{"h":12.3,"v":85.6},{"h":12.45,"v":85.4},{"h":12.62,"v":85.9},{"h":12.8,"v":86.2},{"h":13.0,"v":86.4},{"h":13.15,"v":86.8},{"h":13.29,"v":87.0},{"h":13.43,"v":86.0},{"h":13.57,"v":85.2},{"h":13.7,"v":84.7},{"h":13.85,"v":84.5},{"h":14.04,"v":84.8},{"h":14.23,"v":84.9},{"h":14.38,"v":85.4},{"h":14.52,"v":85.5},{"h":14.7,"v":84.9},{"h":14.9,"v":85.2},{"h":15.08,"v":86.4},{"h":15.27,"v":87.4},{"h":15.5,"v":88.2},{"h":15.75,"v":88.9},{"h":15.9,"v":89.0},{"h":16.03,"v":88.9},{"h":16.17,"v":88.2},{"h":16.31,"v":87.4},{"h":16.45,"v":86.6},{"h":16.6,"v":85.9},{"h":16.79,"v":86.7},{"h":16.98,"v":84.5},{"h":17.12,"v":84.2},{"h":17.26,"v":83.7},{"h":17.4,"v":84.3},{"h":17.54,"v":85.2},{"h":17.64,"v":84.4},{"h":17.73,"v":83.7},{"h":17.88,"v":83.2},{"h":18.02,"v":82.5},{"h":18.16,"v":82.0},{"h":18.3,"v":81.0},{"h":18.4,"v":81.8},{"h":18.49,"v":82.2},{"h":18.58,"v":80.8},{"h":18.68,"v":79.3},{"h":18.77,"v":76.3},{"h":18.87,"v":77.5},{"h":18.96,"v":77.8},{"h":19.05,"v":74.1},{"h":19.15,"v":78.5},{"h":19.24,"v":82.2},{"h":19.34,"v":82.6},{"h":19.43,"v":83.0},{"h":19.53,"v":84.6},{"h":19.62,"v":84.5},{"h":19.7,"v":83.4},{"h":19.77,"v":83.7},{"h":19.85,"v":80.0},{"h":19.91,"v":74.8},{"h":19.96,"v":72.5},{"h":20.03,"v":69.4},{"h":20.1,"v":67.4},{"h":20.19,"v":66.2},{"h":20.29,"v":65.9},{"h":20.43,"v":65.4},{"h":20.57,"v":65.1},{"h":20.76,"v":65.5},{"h":20.95,"v":65.1},{"h":21.09,"v":64.9},{"h":21.23,"v":64.1},{"h":21.38,"v":64.5},{"h":21.52,"v":63.7},{"h":21.66,"v":63.5},{"h":21.8,"v":62.9},{"h":21.94,"v":63.8},{"h":22.08,"v":64.7},{"h":22.27,"v":65.5},{"h":22.46,"v":66.2},{"h":22.6,"v":66.8},{"h":22.75,"v":66.6},{"h":22.84,"v":65.6},{"h":22.93,"v":65.1},{"h":23.08,"v":65.1},{"h":23.22,"v":65.6},{"h":23.31,"v":67.0},{"h":23.41,"v":68.1},{"h":23.55,"v":69.0},{"h":23.69,"v":70.0},{"h":23.88,"v":70.6},{"h":24.07,"v":71.8},{"h":24.3,"v":72.5},{"h":24.54,"v":73.3},{"h":24.73,"v":74.4},{"h":24.92,"v":75.5},{"h":25.11,"v":76.0},{"h":25.3,"v":76.3},{"h":25.49,"v":75.7},{"h":25.68,"v":75.5},{"h":25.87,"v":76.4},{"h":26.06,"v":76.6},{"h":26.25,"v":77.2},{"h":26.43,"v":77.8},{"h":26.62,"v":77.6},{"h":26.81,"v":78.1},{"h":26.95,"v":79.8},{"h":27.1,"v":81.5},{"h":27.19,"v":82.8},{"h":27.38,"v":82.5},{"h":27.52,"v":82.1},{"h":27.66,"v":81.9},{"h":27.9,"v":82.3},{"h":28.14,"v":82.7},{"h":28.38,"v":83.0},{"h":28.61,"v":83.3},{"h":28.8,"v":84.5},{"h":28.99,"v":85.9},{"h":29.18,"v":86.4},{"h":29.37,"v":86.7},{"h":29.51,"v":86.9},{"h":29.65,"v":87.4},{"h":29.84,"v":88.6},{"h":30.03,"v":90.0},{"h":30.26,"v":90.5},{"h":30.5,"v":91.4},{"h":30.74,"v":92.2},{"h":30.97,"v":93.1},{"h":31.12,"v":93.4},{"h":31.26,"v":92.9},{"h":31.45,"v":94.1},{"h":31.6,"v":94.0},{"h":31.73,"v":93.8},{"h":31.85,"v":94.2},{"h":31.95,"v":94.4}
 ],
 "slp": [
 {"h":7.97,"v":30.5853},{"h":8.08,"v":30.5825},{"h":8.18,"v":30.5784},{"h":8.28,"v":30.5795},{"h":8.37,"v":30.5743},{"h":8.5,"v":30.5752},{"h":8.65,"v":30.5759},{"h":8.8,"v":30.5748},{"h":8.94,"v":30.5784},{"h":9.08,"v":30.5788},{"h":9.22,"v":30.5771},{"h":9.41,"v":30.5812},{"h":9.55,"v":30.5806},{"h":9.69,"v":30.5824},{"h":9.84,"v":30.5798},{"h":9.98,"v":30.5812},{"h":10.17,"v":30.5833},{"h":10.26,"v":30.5861},{"h":10.35,"v":30.5894},{"h":10.45,"v":30.5912},{"h":10.59,"v":30.5976},{"h":10.73,"v":30.5906},{"h":10.85,"v":30.5912},{"h":10.97,"v":30.5955},{"h":11.11,"v":30.5886},{"h":11.3,"v":30.5894},{"h":11.49,"v":30.5894},{"h":11.68,"v":30.5885},{"h":11.87,"v":30.5894},{"h":12.06,"v":30.5912},{"h":12.25,"v":30.5922},{"h":12.43,"v":30.5935},{"h":12.62,"v":30.5955},{"h":12.76,"v":30.5965},{"h":12.91,"v":30.6004},{"h":13.05,"v":30.5995},{"h":13.19,"v":30.6004},{"h":13.34,"v":30.6035},{"h":13.48,"v":30.6069},{"h":13.62,"v":30.6106},{"h":13.76,"v":30.611},{"h":13.95,"v":30.6147},{"h":14.04,"v":30.611},{"h":14.14,"v":30.6086},{"h":14.26,"v":30.6178},{"h":14.38,"v":30.622},{"h":14.5,"v":30.6204},{"h":14.61,"v":30.622},{"h":14.76,"v":30.6196},{"h":14.9,"v":30.6208},{"h":15.04,"v":30.6262},{"h":15.18,"v":30.6302},{"h":15.32,"v":30.6282},{"h":15.46,"v":30.6302},{"h":15.6,"v":30.6351},{"h":15.75,"v":30.6424},{"h":15.94,"v":30.6404},{"h":16.08,"v":30.6396},{"h":16.22,"v":30.6412},{"h":16.36,"v":30.6376},{"h":16.5,"v":30.6384},{"h":16.65,"v":30.6392},{"h":16.79,"v":30.6416},{"h":16.93,"v":30.6486},{"h":17.07,"v":30.6506},{"h":17.21,"v":30.6535},{"h":17.35,"v":30.6547},{"h":17.5,"v":30.6518},{"h":17.64,"v":30.6547},{"h":17.7,"v":30.6506},{"h":17.83,"v":30.6588},{"h":17.97,"v":30.6612},{"h":18.11,"v":30.6641},{"h":18.3,"v":30.6636},{"h":18.49,"v":30.6641},{"h":18.68,"v":30.6632},{"h":18.87,"v":30.6629},{"h":19.05,"v":30.6621},{"h":19.24,"v":30.6608},{"h":19.38,"v":30.6584},{"h":19.53,"v":30.6547},{"h":19.62,"v":30.6506},{"h":19.72,"v":30.648},{"h":19.86,"v":30.6445},{"h":20.0,"v":30.6424},{"h":20.19,"v":30.6396},{"h":20.38,"v":30.6363},{"h":20.52,"v":30.6375},{"h":20.66,"v":30.6355},{"h":20.8,"v":30.6343},{"h":20.95,"v":30.6355},{"h":21.14,"v":30.6331},{"h":21.33,"v":30.6302},{"h":21.47,"v":30.6241},{"h":21.6,"v":30.6245},{"h":21.75,"v":30.6233},{"h":21.89,"v":30.6249},{"h":22.03,"v":30.6218},{"h":22.18,"v":30.62},{"h":22.27,"v":30.6159},{"h":22.46,"v":30.6178},{"h":22.65,"v":30.618},{"h":22.84,"v":30.6163},{"h":23.03,"v":30.6151},{"h":23.22,"v":30.6157},{"h":23.41,"v":30.6139},{"h":23.6,"v":30.6135},{"h":23.79,"v":30.6127},{"h":23.98,"v":30.6112},{"h":24.16,"v":30.6098},{"h":24.35,"v":30.6069},{"h":24.45,"v":30.6094},{"h":24.54,"v":30.6118},{"h":24.73,"v":30.6122},{"h":24.92,"v":30.6139},{"h":25.11,"v":30.6175},{"h":25.3,"v":30.62},{"h":25.44,"v":30.6215},{"h":25.58,"v":30.6233},{"h":25.77,"v":30.619},{"h":25.96,"v":30.6159},{"h":26.1,"v":30.6175},{"h":26.25,"v":30.6167},{"h":26.43,"v":30.6184},{"h":26.62,"v":30.6192},{"h":26.81,"v":30.6176},{"h":27.0,"v":30.618},{"h":27.19,"v":30.6208},{"h":27.38,"v":30.622},{"h":27.52,"v":30.6202},{"h":27.66,"v":30.6192},{"h":27.85,"v":30.6233},{"h":28.0,"v":30.6229},{"h":28.14,"v":30.6249},{"h":28.28,"v":30.6278},{"h":28.42,"v":30.6302},{"h":28.61,"v":30.6294},{"h":28.8,"v":30.6302},{"h":28.94,"v":30.628},{"h":29.08,"v":30.629},{"h":29.18,"v":30.6245},{"h":29.27,"v":30.622},{"h":29.46,"v":30.6208},{"h":29.65,"v":30.6212},{"h":29.84,"v":30.62},{"h":30.03,"v":30.6188},{"h":30.12,"v":30.622},{"h":30.22,"v":30.6241},{"h":30.31,"v":30.6218},{"h":30.41,"v":30.62},{"h":30.5,"v":30.626},{"h":30.6,"v":30.6322},{"h":30.7,"v":30.6365},{"h":30.79,"v":30.6384},{"h":30.93,"v":30.6405},{"h":31.07,"v":30.6437},{"h":31.16,"v":30.6412},{"h":31.26,"v":30.6396},{"h":31.4,"v":30.6382},{"h":31.54,"v":30.6343},{"h":31.64,"v":30.629},{"h":31.73,"v":30.6335},{"h":31.83,"v":30.6363},{"h":31.95,"v":30.6371}
 ],
 "rad": [
 {"h":15.15,"v":0},{"h":15.37,"v":0.2},{"h":15.65,"v":0.5},{"h":15.85,"v":0.9},{"h":16.1,"v":1.4},{"h":16.15,"v":1.6},{"h":16.22,"v":3.5},{"h":16.42,"v":6.1},{"h":16.79,"v":8.0},{"h":17.16,"v":11.1},{"h":17.21,"v":14.3},{"h":17.27,"v":9.0},{"h":17.3,"v":11.7},{"h":17.36,"v":14.5},{"h":17.41,"v":12.0},{"h":17.44,"v":6.7},{"h":17.5,"v":8.6},{"h":17.55,"v":14.9},{"h":17.58,"v":18.7},{"h":17.72,"v":20.8},{"h":17.92,"v":21.8},{"h":18.29,"v":22.9},{"h":18.69,"v":24.4},{"h":19.06,"v":25.9},{"h":19.34,"v":26.9},{"h":19.63,"v":27.5},{"h":19.97,"v":27.9},{"h":20.19,"v":27.9},{"h":20.76,"v":27.1},{"h":21.13,"v":25.6},{"h":21.2,"v":24.4},{"h":21.27,"v":25.0},{"h":21.7,"v":23.1},{"h":22.09,"v":20.6},{"h":22.18,"v":18.1},{"h":22.3,"v":14.0},{"h":22.38,"v":11.7},{"h":22.46,"v":12.4},{"h":22.55,"v":11.1},{"h":22.66,"v":14.0},{"h":22.75,"v":14.3},{"h":23.04,"v":11.4},{"h":23.4,"v":7.8},{"h":23.8,"v":4.2},{"h":23.94,"v":2.9},{"h":24.03,"v":1.4},{"h":24.37,"v":0.6},{"h":24.82,"v":0.1},{"h":25.02,"v":0}
 ],
 "radnum": [
 {"h":18.0,"t":"1"},{"h":19.0,"t":"2"},{"h":19.88,"t":"3"},{"h":20.71,"t":"4"},{"h":21.64,"t":"5"},{"h":23.18,"t":"6"}
 ],
 "pcp": [{"h":7.9708,"v":0},{"h":31.9708,"v":0}]
},
"vconcat": [
 {
  "width": 846, "height": 79,
  "layer": [
   {"data": {"name": "wind"}, "mark": {"type": "line", "color": "black", "strokeWidth": 1},
    "encoding": {
     "x": {"field": "h", "type": "quantitative", "scale": {"domain": [7.9708, 31.9708], "nice": false, "zero": false}, "axis": null},
     "y": {"field": "w", "type": "quantitative", "scale": {"domain": [-0.64, 15.35], "nice": false, "zero": false},
           "axis": {"values": [0, 5, 10, 15], "title": "wind (kts)", "titleX": -58, "titleY": 39.5, "titleAngle": -90, "titleBaseline": "middle", "titleAlign": "center", "labelPadding": 5}}}},
   {"data": {"name": "peak"}, "mark": {"type": "tick", "orient": "horizontal", "color": "red", "size": 4, "thickness": 1.5},
    "encoding": {
     "x": {"field": "h", "type": "quantitative", "scale": {"domain": [7.9708, 31.9708], "nice": false, "zero": false}, "axis": null},
     "y": {"field": "p", "type": "quantitative", "scale": {"domain": [-0.64, 15.35], "nice": false, "zero": false}, "axis": null}}},
   {"data": {"values": [{}]}, "mark": {"type": "text", "color": "red", "fontSize": 9, "align": "left", "baseline": "middle"},
    "encoding": {
     "x": {"datum": 8.47, "type": "quantitative", "axis": null},
     "y": {"datum": 14, "type": "quantitative", "scale": {"domain": [-0.64, 15.35], "nice": false, "zero": false}, "axis": null},
     "text": {"value": "10 min. peak winds in red"}}},
   {"data": {"values": [{"v": -0.33}, {"v": 7.9}]}, "mark": {"type": "point", "opacity": 0},
    "encoding": {"y": {"field": "v", "type": "quantitative", "scale": {"domain": [-0.33, 7.9], "nice": false, "zero": false},
      "axis": {"orient": "right", "values": [0, 2, 4, 6], "title": "wind (m/s)", "titleX": 60, "titleY": 39.5, "titleAngle": -90, "titleBaseline": "middle", "titleAlign": "center", "labelPadding": 11}}}}
  ],
  "resolve": {"scale": {"y": "independent"}}
 },
 {
  "width": 846, "height": 79,
  "layer": [
   {"data": {"name": "dir"}, "mark": {"type": "tick", "orient": "horizontal", "color": "black", "size": 3.5, "thickness": 1.6},
    "encoding": {
     "x": {"field": "h", "type": "quantitative", "scale": {"domain": [7.9708, 31.9708], "nice": false, "zero": false}, "axis": null},
     "y": {"field": "d", "type": "quantitative", "scale": {"domain": [-16, 372], "nice": false, "zero": false},
           "axis": {"values": [0, 90, 180, 270, 360], "labelExpr": "datum.value == 90 ? 'E' : datum.value == 180 ? 'S' : datum.value == 270 ? 'W' : 'N'", "title": "dir.", "titleX": -58, "titleY": 39.5, "titleAngle": -90, "titleBaseline": "middle", "titleAlign": "center", "labelPadding": 5}}}},
   {"data": {"values": [{"v": -16}, {"v": 372}]}, "mark": {"type": "point", "opacity": 0},
    "encoding": {"y": {"field": "v", "type": "quantitative", "scale": {"domain": [-16, 372], "nice": false, "zero": false},
      "axis": {"orient": "right", "values": [0, 90, 180, 270, 360], "labelExpr": "datum.value == 90 ? 'E' : datum.value == 180 ? 'S' : datum.value == 270 ? 'W' : 'N'", "title": "dir.", "titleX": 60, "titleY": 39.5, "titleAngle": -90, "titleBaseline": "middle", "titleAlign": "center", "labelPadding": 11}}}}
  ],
  "resolve": {"scale": {"y": "independent"}}
 },
 {
  "width": 846, "height": 79,
  "layer": [
   {"data": {"name": "ta"}, "mark": {"type": "line", "color": "black", "strokeWidth": 1},
    "encoding": {
     "x": {"field": "h", "type": "quantitative", "scale": {"domain": [7.9708, 31.9708], "nice": false, "zero": false}, "axis": null},
     "y": {"field": "v", "type": "quantitative", "scale": {"domain": [32.15, 46.6], "nice": false, "zero": false},
           "axis": {"values": [34, 36, 38, 40, 42, 44, 46], "title": "Tair/Tdew (F)", "titleX": -58, "titleY": 39.5, "titleAngle": -90, "titleBaseline": "middle", "titleAlign": "center", "labelPadding": 5}}}},
   {"data": {"name": "td"}, "mark": {"type": "line", "color": "red", "strokeWidth": 1},
    "encoding": {
     "x": {"field": "h", "type": "quantitative", "scale": {"domain": [7.9708, 31.9708], "nice": false, "zero": false}, "axis": null},
     "y": {"field": "v", "type": "quantitative", "scale": {"domain": [32.15, 46.6], "nice": false, "zero": false}, "axis": null}}},
   {"data": {"values": [{"v": 0.083}, {"v": 8.11}]}, "mark": {"type": "point", "opacity": 0},
    "encoding": {"y": {"field": "v", "type": "quantitative", "scale": {"domain": [0.083, 8.11], "nice": false, "zero": false},
      "axis": {"orient": "right", "values": [2, 4, 6, 8], "title": "Tair/Tdew (C)", "titleX": 60, "titleY": 39.5, "titleAngle": -90, "titleBaseline": "middle", "titleAlign": "center", "labelPadding": 11}}}}
  ],
  "resolve": {"scale": {"y": "independent"}}
 },
 {
  "width": 846, "height": 79,
  "layer": [
   {"data": {"name": "rh"}, "mark": {"type": "line", "color": "black", "strokeWidth": 1},
    "encoding": {
     "x": {"field": "h", "type": "quantitative", "scale": {"domain": [7.9708, 31.9708], "nice": false, "zero": false}, "axis": null},
     "y": {"field": "v", "type": "quantitative", "scale": {"domain": [60.2, 95.7], "nice": false, "zero": false},
           "axis": {"values": [65, 70, 75, 80, 85, 90, 95], "title": "RH (%)", "titleX": -58, "titleY": 39.5, "titleAngle": -90, "titleBaseline": "middle", "titleAlign": "center", "labelPadding": 5}}}},
   {"data": {"values": [{"v": 60.2}, {"v": 95.7}]}, "mark": {"type": "point", "opacity": 0},
    "encoding": {"y": {"field": "v", "type": "quantitative", "scale": {"domain": [60.2, 95.7], "nice": false, "zero": false},
      "axis": {"orient": "right", "values": [65, 70, 75, 80, 85, 90, 95], "title": "RH (%)", "titleX": 60, "titleY": 39.5, "titleAngle": -90, "titleBaseline": "middle", "titleAlign": "center", "labelPadding": 11}}}}
  ],
  "resolve": {"scale": {"y": "independent"}}
 },
 {
  "width": 846, "height": 79,
  "layer": [
   {"data": {"name": "slp"}, "mark": {"type": "line", "color": "black", "strokeWidth": 1},
    "encoding": {
     "x": {"field": "h", "type": "quantitative", "scale": {"domain": [7.9708, 31.9708], "nice": false, "zero": false}, "axis": null},
     "y": {"field": "v", "type": "quantitative", "scale": {"domain": [30.5708, 30.6682], "nice": false, "zero": false},
           "axis": {"values": [30.58, 30.6, 30.62, 30.64, 30.66], "format": ".2f", "title": "SLP (inHg)", "titleX": -58, "titleY": 39.5, "titleAngle": -90, "titleBaseline": "middle", "titleAlign": "center", "labelPadding": 5}}}},
   {"data": {"values": [{"v": 1035.24}, {"v": 1038.54}]}, "mark": {"type": "point", "opacity": 0},
    "encoding": {"y": {"field": "v", "type": "quantitative", "scale": {"domain": [1035.24, 1038.54], "nice": false, "zero": false},
      "axis": {"orient": "right", "values": [1035.5, 1036, 1036.5, 1037, 1037.5, 1038, 1038.5], "format": "~g", "title": "SLP (hPa)", "titleX": 60, "titleY": 39.5, "titleAngle": -90, "titleBaseline": "middle", "titleAlign": "center", "labelPadding": 11}}}}
  ],
  "resolve": {"scale": {"y": "independent"}}
 },
 {
  "width": 846, "height": 79,
  "layer": [
   {"data": {"name": "pcp"}, "mark": {"type": "line", "color": "#0000ff", "strokeWidth": 1},
    "encoding": {
     "x": {"field": "h", "type": "quantitative", "scale": {"domain": [7.9708, 31.9708], "nice": false, "zero": false}, "axis": null},
     "y": {"field": "v", "type": "quantitative", "scale": {"domain": [-1, 1], "nice": false, "zero": false},
           "axis": {"values": [0], "title": "pcp. (in)", "titleX": -58, "titleY": 39.5, "titleAngle": -90, "titleBaseline": "middle", "titleAlign": "center", "labelPadding": 5}}}},
   {"data": {"values": [{"v": -1}, {"v": 1}]}, "mark": {"type": "point", "opacity": 0},
    "encoding": {"y": {"field": "v", "type": "quantitative", "scale": {"domain": [-1, 1], "nice": false, "zero": false},
      "axis": {"orient": "right", "values": [0], "title": "pcp. (mm)", "titleX": 60, "titleY": 39.5, "titleAngle": -90, "titleBaseline": "middle", "titleAlign": "center", "labelPadding": 11}}}}
  ],
  "resolve": {"scale": {"y": "independent"}}
 },
 {
  "width": 846, "height": 79,
  "layer": [
   {"data": {"name": "rad"}, "mark": {"type": "area", "color": "#262626", "line": false},
    "encoding": {
     "x": {"field": "h", "type": "quantitative", "scale": {"domain": [7.9708, 31.9708], "nice": false, "zero": false},
           "axis": {"values": [9, 12, 15, 18, 21, 24, 27, 30], "title": null, "labelExpr": "datum.value == 24 ? ['05Dec', '00z'] : ((datum.value % 24) < 10 ? '0' : '') + (datum.value % 24) + 'z'", "labelColor": {"condition": {"test": "datum.value == 24", "value": "red"}, "value": "black"}, "labelFontSize": {"condition": {"test": "datum.value == 24", "value": 14}, "value": 9}, "labelPadding": {"condition": {"test": "datum.value == 24", "value": 12}, "value": 8}, "labelBaseline": "top", "labelLineHeight": 15, "labelFlush": false}},
     "y": {"field": "v", "type": "quantitative", "scale": {"domain": [-0.95, 29.17], "nice": false, "zero": false},
           "axis": {"values": [0, 5, 10, 15, 20, 25], "title": "rad(Lgly/hr)", "titleX": -58, "titleY": 39.5, "titleAngle": -90, "titleBaseline": "middle", "titleAlign": "center", "labelPadding": 5}}}},
   {"data": {"name": "radnum"}, "mark": {"type": "text", "color": "#a020f0", "fontSize": 9, "baseline": "middle"},
    "encoding": {
     "x": {"field": "h", "type": "quantitative", "axis": null},
     "y": {"datum": 26.5, "type": "quantitative", "scale": {"domain": [-0.95, 29.17], "nice": false, "zero": false}, "axis": null},
     "text": {"field": "t"}}},
   {"data": {"values": [{}]}, "mark": {"type": "text", "color": "#a020f0", "fontSize": 9, "baseline": "middle", "align": "center"},
    "encoding": {
     "x": {"datum": 8.02, "type": "quantitative", "axis": null},
     "y": {"datum": 26.5, "type": "quantitative", "scale": {"domain": [-0.95, 29.17], "nice": false, "zero": false}, "axis": null},
     "text": {"value": "Sum of previous day"}}},
   {"data": {"values": [{}]}, "mark": {"type": "text", "color": "#a020f0", "fontSize": 9, "baseline": "middle", "align": "center"},
    "encoding": {
     "x": {"datum": 8.02, "type": "quantitative", "axis": null},
     "y": {"datum": 22.3, "type": "quantitative", "scale": {"domain": [-0.95, 29.17], "nice": false, "zero": false}, "axis": null},
     "text": {"value": "<--- 1.14 MJoules/m^2"}}},
   {"data": {"values": [{"v": -11.3}, {"v": 348.4}]}, "mark": {"type": "point", "opacity": 0},
    "encoding": {"y": {"field": "v", "type": "quantitative", "scale": {"domain": [-11.3, 348.4], "nice": false, "zero": false},
      "axis": {"orient": "right", "values": [0, 100, 200, 300], "title": "rad (W/m^2)", "titleX": 60, "titleY": 39.5, "titleAngle": -90, "titleBaseline": "middle", "titleAlign": "center", "labelPadding": 11}}}}
  ],
  "resolve": {"scale": {"y": "independent"}, "axis": {"x": "independent"}}
 }
]
}
